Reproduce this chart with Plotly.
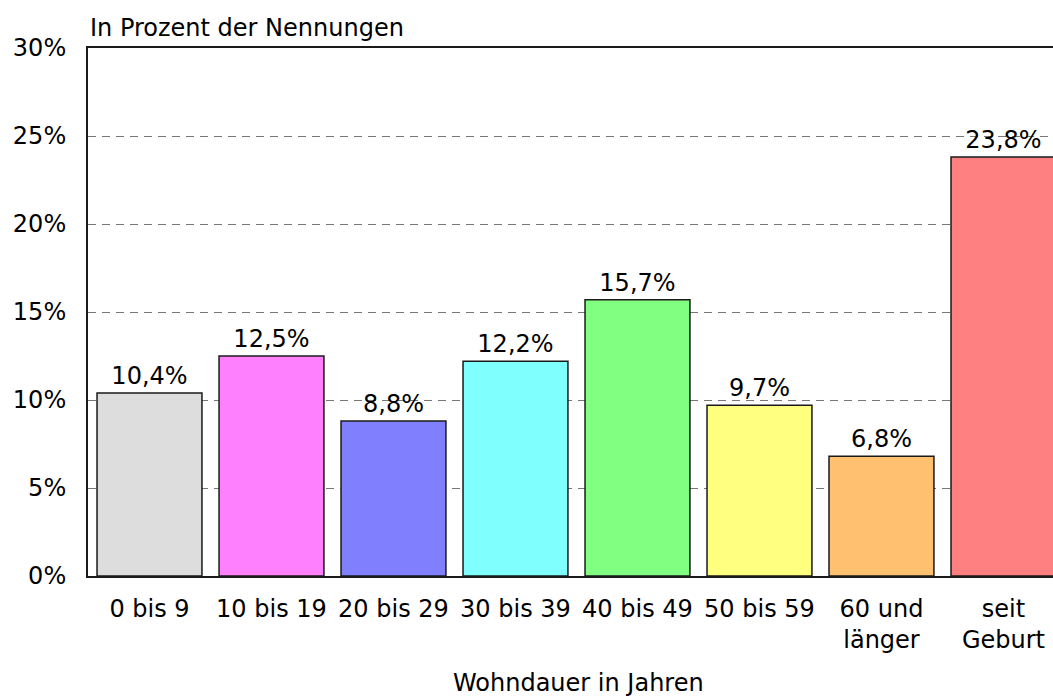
import plotly.graph_objects as go

categories = ["0 bis 9", "10 bis 19", "20 bis 29", "30 bis 39", "40 bis 49",
              "50 bis 59", "60 und<br>länger", "seit<br>Geburt"]
values = [10.4, 12.5, 8.8, 12.2, 15.7, 9.7, 6.8, 23.8]
colors = ["#DDDDDD", "#FF80FF", "#8080FF", "#80FFFF", "#80FF80",
          "#FFFF80", "#FFC06F", "#FF8080"]
y_ticks = [0, 5, 10, 15, 20, 25, 30]

FONT = "DejaVu Sans"
FS = 24

fig = go.Figure(go.Bar(
    x=list(range(len(categories))),
    y=values,
    width=0.86,
    marker=dict(color=colors, line=dict(color="#1a1a1a", width=1.5)),
    text=values,
    texttemplate="%{y:.1f}%",
    textposition="outside",
    textfont=dict(family=FONT, size=FS, color="#000"),
    cliponaxis=False,
))

fig.update_layout(
    width=1053, height=700,
    margin=dict(l=88, r=0, t=48, b=124),
    paper_bgcolor="white", plot_bgcolor="white",
    separators=",.",
    showlegend=False,
    font=dict(family=FONT, size=FS, color="#000"),
    xaxis=dict(
        range=[-0.504, 7.406],
        tickvals=list(range(len(categories))),
        ticktext=categories,
        showline=True, linecolor="#1a1a1a", linewidth=2, mirror=True,
        showgrid=False, ticks="outside", ticklen=10, tickcolor="rgba(0,0,0,0)",
        tickfont=dict(family=FONT, size=FS),
        automargin=False,
    ),
    yaxis=dict(
        range=[0, 30],
        tickvals=y_ticks,
        ticktext=[f"{v}%" for v in y_ticks],
        showline=True, linecolor="#1a1a1a", linewidth=2,
        showgrid=True, gridcolor="#777777", gridwidth=1, griddash="8px,6px",
        ticks="outside", ticklen=15, tickcolor="rgba(0,0,0,0)",
        tickfont=dict(family=FONT, size=FS),
        zeroline=False,
        automargin=False,
    ),
    annotations=[
        dict(text="In Prozent der Nennungen", xref="paper", yref="paper",
             x=0.0, y=1.0, xanchor="left", yanchor="middle", yshift=20, xshift=0,
             showarrow=False, font=dict(family=FONT, size=FS)),
        dict(text="Wohndauer in Jahren", xref="paper", yref="paper",
             x=0.5, y=0, xanchor="center", yanchor="middle", xshift=8, yshift=-107,
             showarrow=False, font=dict(family=FONT, size=FS)),
    ],
)

fig.write_html(
    "out.html",
    config={"displayModeBar": False},
    post_script="document.body.style.margin='0';document.body.style.overflow='hidden';",
)
